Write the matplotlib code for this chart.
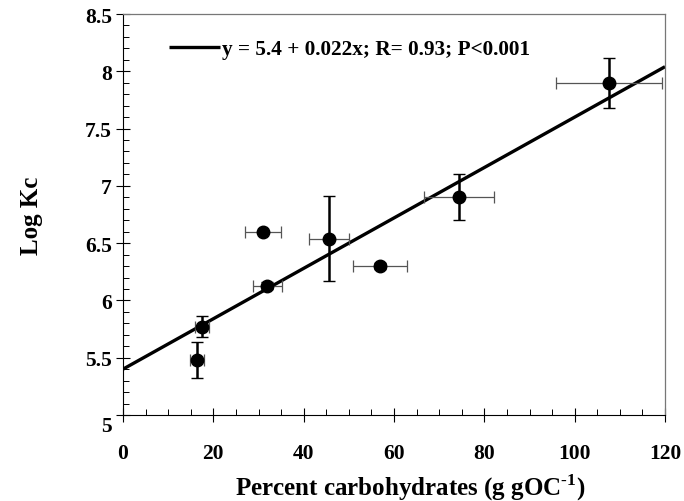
import matplotlib
matplotlib.use("Agg")
import matplotlib.pyplot as plt
import matplotlib.transforms as mtransforms
from matplotlib.ticker import MultipleLocator
import numpy as np

# ----------------------------- data -----------------------------
carbs = [16.4, 17.5, 31.0, 31.9, 45.6, 56.9, 74.4, 107.6]       # g gOC-1
log_kc = [5.48, 5.77, 6.60, 6.13, 6.54, 6.30, 6.90, 7.90]
carbs_err = [1.5, 1.6, 3.9, 3.2, 4.5, 5.9, 7.7, 11.7]
log_kc_err = [0.16, 0.09, 0.01, 0.03, 0.37, 0.03, 0.20, 0.22]

fit_intercept = 5.4
fit_slope = 0.022
fit_label = "y = 5.4 + 0.022x; R= 0.93; P<0.001"

# ----------------------------- figure -----------------------------
plt.rcParams['font.family'] = ['Liberation Serif', 'DejaVu Serif']
plt.rcParams['font.weight'] = 'bold'
plt.rcParams['mathtext.fontset'] = 'custom'
plt.rcParams['mathtext.rm'] = 'Liberation Serif:bold'
plt.rcParams['mathtext.bf'] = 'Liberation Serif:bold'

fig = plt.figure(figsize=(6.84, 5.02), dpi=100)
ax = fig.add_axes([123 / 684, 1 - 416 / 502, 542 / 684, 401 / 502])

# regression line across the full x range
xs = np.array([0, 120])
ax.plot(xs, fit_intercept + fit_slope * xs, color='black', lw=2.4,
        solid_capstyle='butt', label=fit_label, zorder=2)

# horizontal error bars: thin grey
ax.errorbar(carbs, log_kc, xerr=carbs_err, fmt='none', ecolor='#555555',
            elinewidth=0.9, capsize=4, capthick=0.9, zorder=3)
# vertical error bars: heavier black
ax.errorbar(carbs, log_kc, yerr=log_kc_err, fmt='none', ecolor='black',
            elinewidth=1.8, capsize=4.5, capthick=1.0, zorder=3)
ax.plot(carbs, log_kc, 'o', color='black', ms=9, zorder=4)

ax.set_xlim(0, 120)
ax.set_ylim(5, 8.5)
ax.xaxis.set_major_locator(MultipleLocator(20))
ax.xaxis.set_minor_locator(MultipleLocator(5))
ax.yaxis.set_minor_locator(MultipleLocator(0.1))
ax.set_yticks([5, 5.5, 6, 6.5, 7, 7.5, 8, 8.5])
ax.set_yticklabels(['5', '5.5', '6', '6.5', '7', '7.5', '8', '8.5'])

ax.tick_params(which='major', direction='inout', length=10, width=0.8,
               labelsize=15.5)
ax.tick_params(axis='x', which='major', pad=15)
ax.tick_params(axis='y', which='major', pad=3)
ax.tick_params(which='minor', direction='in', length=4, width=0.7)

# the "5" label sits a little lower than the others
lbl5 = ax.get_yticklabels()[0]
lbl5.set_transform(lbl5.get_transform() +
                   mtransforms.ScaledTranslation(0, -6 / 72, fig.dpi_scale_trans))

for side in ['top', 'right']:
    ax.spines[side].set_color('#777777')
    ax.spines[side].set_linewidth(0.9)
for side in ['left', 'bottom']:
    ax.spines[side].set_linewidth(0.8)

ax.set_xlabel("Percent carbohydrates (g gOC$^{\\text{-1}}$)", fontsize=18,
              fontweight='bold')
ax.xaxis.set_label_coords(0.53, -0.142)
ax.set_ylabel("Log Kc", fontsize=18, fontweight='bold', labelpad=30)

ax.legend(loc='upper left', bbox_to_anchor=(0.05, 0.985), frameon=False,
          handlelength=2.4, handletextpad=0.1, prop={'size': 15.3, 'weight': 'bold'})

fig.savefig("out.png", dpi=100)
